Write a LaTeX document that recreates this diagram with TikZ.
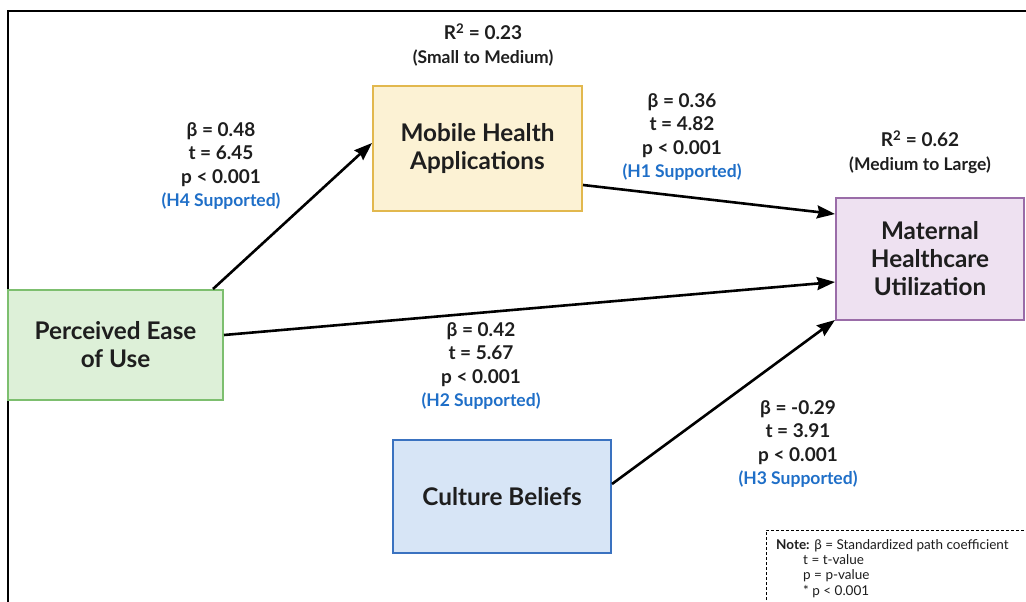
\documentclass[tikz,border=0pt]{standalone}
\usepackage{fontspec}
\setmainfont{Lato}
\usetikzlibrary{arrows.meta,calc}
\definecolor{ylfill}{HTML}{FCF2D4}
\definecolor{yldraw}{HTML}{E2B84E}
\definecolor{grfill}{HTML}{DDF0D8}
\definecolor{grdraw}{HTML}{7DBF6F}
\definecolor{pufill}{HTML}{EEE1F1}
\definecolor{pudraw}{HTML}{9A6CA8}
\definecolor{blfill}{HTML}{D7E5F6}
\definecolor{bldraw}{HTML}{3A72C0}
\definecolor{hyp}{HTML}{1F6FC8}
\definecolor{txt}{HTML}{1E1E1E}
\tikzset{
  box/.style={draw, line width=2pt, align=center, inner sep=0pt, text=txt,
    font=\fontsize{24.3}{28}\selectfont\bfseries},
  lbl/.style={align=center, text=txt, font=\fontsize{19}{23.3}\selectfont\bfseries},
  arr/.style={line width=2.6pt, -{Stealth[length=18pt,width=13pt,inset=2pt]}},
}
\newcommand{\hyptext}[1]{{\fontsize{17.5}{23.3}\selectfont\color{hyp}#1}}
\newcommand{\subtext}[1]{{\fontsize{17.5}{23.3}\selectfont #1}}
\begin{document}
\begin{tikzpicture}[x=1pt,y=-1pt]
\useasboundingbox (0,0) rectangle (1026,602);
\fill[white] (0,0) rectangle (1026,602);
\draw[line width=2pt] (8,602) -- (8,11) -- (1026,11);

\node[box, fill=ylfill, draw=yldraw, minimum width=209pt, minimum height=125pt] (mh) at (477.5,148.5) {Mobile Health\\Applications};
\node[box, fill=grfill, draw=grdraw, minimum width=215pt, minimum height=110pt] (pe) at (115.5,345) {Perceived Ease\\of Use};
\node[box, fill=pufill, draw=pudraw, minimum width=188pt, minimum height=122pt] (mt) at (930,259) {Maternal\\Healthcare\\Utilization};
\node[box, fill=blfill, draw=bldraw, minimum width=218pt, minimum height=113pt] (cb) at (502,496.5) {Culture Beliefs};

\draw[arr] ([xshift=-11pt]pe.north east) -- ([yshift=5.5pt]mh.west);
\draw[arr] ([yshift=-36.5pt]mh.east) -- ([yshift=45pt]mt.west);
\draw[arr] ([yshift=10pt]pe.east) -- ([yshift=-23pt]mt.west);
\draw[arr] ([yshift=12.5pt]cb.east) -- ([yshift=1pt]mt.south west);

\node[lbl] (r1) at (483,45) {R\textsuperscript{2} = 0.23\\\subtext{(Small to Medium)}};
\node[lbl] (r2) at (920,152) {R\textsuperscript{2} = 0.62\\\subtext{(Medium to Large)}};

\node[lbl] (l4) at (221,166) {β = 0.48\\t = 6.45\\p < 0.001\\\hyptext{(H4 Supported)}};
\node[lbl] (l1) at (682,137) {β = 0.36\\t = 4.82\\p < 0.001\\\hyptext{(H1 Supported)}};
\node[lbl] (l2) at (481,366) {β = 0.42\\t = 5.67\\p < 0.001\\\hyptext{(H2 Supported)}};
\node[lbl] (l3) at (798,444) {β = -0.29\\t = 3.91\\p < 0.001\\\hyptext{(H3 Supported)}};

\draw[dashed, line width=1pt, dash pattern=on 3pt off 2pt] (766,610) -- (766,530) -- (1030,530);
\node[anchor=north west, align=left, text=txt, font=\fontsize{13.5}{15.3}\selectfont, inner sep=0pt] (note) at (776,539)
  {\textbf{Note:} β = Standardized path coefficient\\
   \hspace*{27pt}t = t-value\\
   \hspace*{27pt}p = p-value\\
   \hspace*{27pt}* p < 0.001};
\end{tikzpicture}
\end{document}
